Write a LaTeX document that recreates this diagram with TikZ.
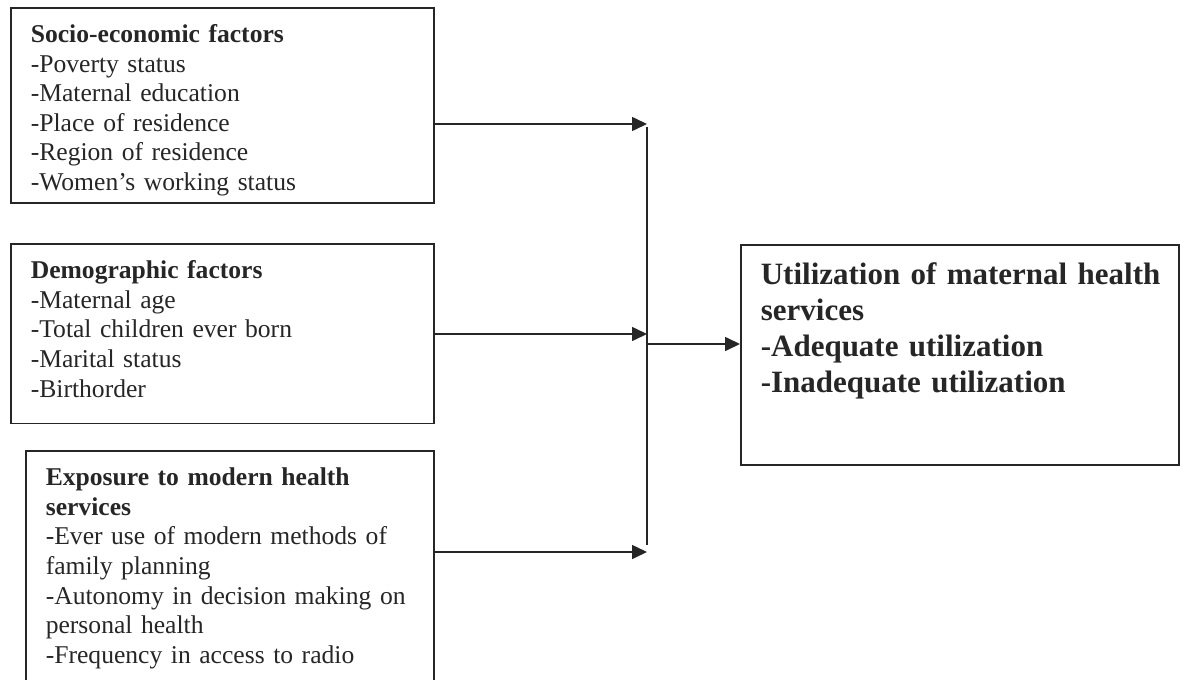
\documentclass[tikz,border=0pt]{standalone}
\usepackage{fontspec}
\setmainfont{Liberation Serif}
\usetikzlibrary{arrows.meta}

\tikzset{
  factorbox/.style={draw=black!85, text=black!85, line width=0.8pt, anchor=north west,
    inner xsep=10pt, inner ysep=0pt, align=left, text height=17.4pt,
    font=\fontsize{12.8}{14.8}\selectfont},
  outcomebox/.style={draw=black!85, text=black!85, line width=0.8pt, anchor=north west,
    inner xsep=10pt, inner ysep=0pt, align=left, text height=20pt,
    font=\bfseries\fontsize{15.5}{18}\selectfont},
  link/.style={draw=black!85, line width=0.8pt},
  flow/.style={link, -{Triangle[length=7.5pt,width=7pt]}}
}

\begin{document}
\begin{tikzpicture}[x=0.5pt, y=-0.5pt]
		%%%%% START %%%%%
		\useasboundingbox (0, 0) rectangle (1181, 679);
		
		\node[factorbox, text width=191.5pt, text depth=80.1pt] (socio) at (10, 7)
		  {\textbf{Socio-economic factors}\\
		   -Poverty status\\
		   -Maternal education\\
		   -Place of residence\\
		   -Region of residence\\
		   -Women’s working status};
		
		\node[factorbox, text width=191.5pt, text depth=72.5pt] (demo) at (10, 243)
		  {\textbf{Demographic factors}\\
		   -Maternal age\\
		   -Total children ever born\\
		   -Marital status\\
		   -Birthorder};
		
		\node[factorbox, text width=184pt, text depth=105pt] (expo) at (25, 450)
		  {\textbf{Exposure to modern health}\\
		   \textbf{services}\\
		   -Ever use of modern methods of\\
		   family planning\\
		   -Autonomy in decision making on\\
		   personal health\\
		   -Frequency in access to radio};
		
		\node[outcomebox, text width=199pt, text depth=90pt] (util) at (740, 244)
		  {\mbox{Utilization of maternal health}\\
		   services\\
		   -Adequate utilization\\
		   -Inadequate utilization};
		
		\coordinate (j1) at (647, 124);
		\coordinate (j2) at (647, 334);
		\coordinate (j3) at (647, 552);
		\coordinate (bartop) at (647, 127);
		\coordinate (barbot) at (647, 545);
		\coordinate (jout) at (647, 344);
		
		\draw[flow] (socio.east |- j1) -- (j1);
		\draw[flow] (demo.east |- j2) -- (j2);
		\draw[flow] (expo.east |- j3) -- (j3);
		\draw[link] (bartop) -- (barbot);
		\draw[flow] (jout) -- (util.west |- jout);
		%%%%% END %%%%%
\end{tikzpicture}
\end{document}
